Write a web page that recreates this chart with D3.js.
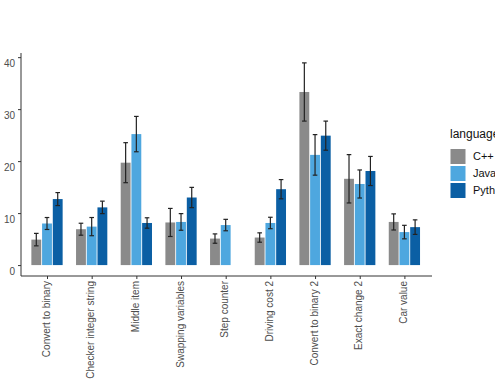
<!DOCTYPE html>
<html><head><meta charset="utf-8">
<script src="https://cdn.jsdelivr.net/npm/d3@7"></script>
<style>html,body{margin:0;padding:0;background:#fff;} svg{display:block;}</style>
</head><body>
<svg id="c" width="495" height="389"></svg>
<script>
const categories = ["Convert to binary","Checker integer string","Middle item","Swapping variables","Step counter","Driving cost 2","Convert to binary 2","Exact change 2","Car value"];
const languages = ["C++","Java","Python"];
const cppMean  = [4.9, 6.9, 19.7, 8.2, 5.1, 5.3, 33.3, 16.6, 8.3];
const cppErr   = [1.2, 1.15, 3.85, 2.7, 0.9, 0.9, 5.6, 4.65, 1.55];
const javaMean = [8.0, 7.4, 25.2, 8.3, 7.7, 8.1, 21.2, 15.6, 6.35];
const javaErr  = [1.15, 1.75, 3.4, 1.6, 1.1, 1.1, 3.9, 2.7, 1.3];
const pyMean   = [12.7, 11.1, 8.1, 13.0, null, 14.6, 24.9, 18.1, 7.3];
const pyErr    = [1.25, 1.2, 1.0, 1.95, null, 1.85, 2.8, 2.8, 1.4];
const yTicks = [0, 10, 20, 30, 40];
const colors = ["#8a8a8a", "#4ea7df", "#0b5fa4"];

const means = [cppMean, javaMean, pyMean];
const errs = [cppErr, javaErr, pyErr];

const svg = d3.select("#c");
const pLeft = 21, pRight = 432, pTop = 53, pBottom = 276;

const y = d3.scaleLinear().domain([-2.1, 40.8]).range([pBottom, pTop]);
const n = categories.length;
const step = (pRight - pLeft) / (n - 1 + 1.2);
const xc = d3.scalePoint().domain(categories).range([pLeft + 0.6*step - 0.8, pRight - 0.6*step - 0.8]);
const groupW = step * 0.7;
const xs = d3.scaleBand().domain(languages).range([-groupW/2, groupW/2]).paddingInner(0.08);

const axisColor = "#333";
const textColor = "#4d4d4d";
const font = "Liberation Sans, Arial, sans-serif";

const g = svg.append("g");
languages.forEach((lang, li) => {
  categories.forEach((cat, ci) => {
    const m = means[li][ci];
    if (m == null) return;
    const bx = xc(cat) + xs(lang);
    g.append("rect")
      .attr("x", bx).attr("width", xs.bandwidth())
      .attr("y", y(m)).attr("height", y(0) - y(m))
      .attr("fill", colors[li]);
  });
});
languages.forEach((lang, li) => {
  categories.forEach((cat, ci) => {
    const m = means[li][ci];
    if (m == null) return;
    const e = errs[li][ci];
    const cx = xc(cat) + xs(lang) + xs.bandwidth()/2;
    const cw = 2.3;
    const eg = g.append("g").attr("stroke", "#222").attr("stroke-width", 1.2);
    eg.append("line").attr("x1", cx).attr("x2", cx).attr("y1", y(m+e)).attr("y2", y(m-e));
    eg.append("line").attr("x1", cx-cw).attr("x2", cx+cw).attr("y1", y(m+e)).attr("y2", y(m+e));
    eg.append("line").attr("x1", cx-cw).attr("x2", cx+cw).attr("y1", y(m-e)).attr("y2", y(m-e));
  });
});

const yAxis = d3.axisLeft(y).tickValues(yTicks).tickSize(3).tickPadding(3);
const ya = svg.append("g").attr("transform", `translate(${pLeft},0)`).call(yAxis);
ya.select(".domain").attr("stroke", axisColor).attr("d", `M0,${pTop}V${pBottom}`);
ya.selectAll(".tick line").attr("stroke", axisColor);
ya.selectAll(".tick text").attr("fill", textColor).attr("font-family", font).attr("font-size", 10).attr("dy", "0.95em");

const xAxis = d3.axisBottom(xc).tickSize(3).tickPadding(3);
const xa = svg.append("g").attr("transform", `translate(0,${pBottom})`).call(xAxis);
xa.select(".domain").attr("stroke", axisColor).attr("d", `M${pLeft},0H${pRight}`);
xa.selectAll(".tick line").attr("stroke", axisColor);
xa.selectAll(".tick text")
  .attr("fill", textColor).attr("font-family", font).attr("font-size", 10)
  .attr("transform", "rotate(-90)")
  .attr("text-anchor", "end")
  .attr("x", -5).attr("y", 0).attr("dy", "0.2em");

const lg = svg.append("g").attr("transform", "translate(450,0)");
lg.append("text").attr("x", 0).attr("y", 138).text("language")
  .attr("font-family", font).attr("font-size", 12).attr("fill", "#111");
languages.forEach((lang, i) => {
  const yy = 149 + i*17;
  lg.append("rect").attr("x", 0.5).attr("y", yy).attr("width", 15).attr("height", 15).attr("fill", colors[i]);
  lg.append("text").attr("x", 23).attr("y", yy + 7.5).attr("dy", "0.35em").text(lang)
    .attr("font-family", font).attr("font-size", 11).attr("fill", "#111");
});
</script>
</body></html>
